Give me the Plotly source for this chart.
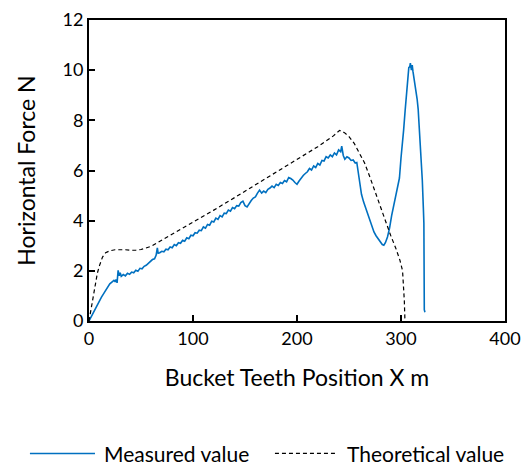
import plotly.graph_objects as go

mx = [0, 3, 6, 9, 12, 15, 18, 20, 22, 24, 25, 26, 27, 28, 29, 30, 31, 33, 35, 37, 39, 41, 43, 45, 47, 49, 51, 53, 55, 57, 59, 61, 63, 64.5, 65.7, 66.5, 68, 70, 72, 74, 76, 78, 80, 82, 84, 86, 88, 90, 92, 94, 96, 98, 100, 102, 104, 106, 108, 110, 112, 114, 116, 118, 120, 122, 124, 126, 128, 130, 132, 134, 136, 138, 140, 142, 144, 146, 148, 150, 152, 154, 156, 158, 160, 162, 164, 166, 168, 170, 172, 174, 176, 178, 180, 182, 184, 186, 188, 190, 192, 194, 196, 198, 200, 202, 204, 206, 208, 210, 212, 214, 216, 218, 220, 222, 224, 226, 228, 230, 232, 234, 236, 238, 240, 242, 243, 244.5, 246, 248, 250, 252, 254, 256, 257.5, 259, 260.5, 262, 264, 266, 268, 270, 272, 274, 276, 278, 280, 282, 283.5, 285, 287, 289, 291, 293, 295, 297, 298.5, 300, 301, 302.5, 304, 305.5, 306.5, 307.5, 308.5, 309, 310, 310.8, 311.5, 312.5, 313.5, 314.5, 315.5, 316.5, 317.5, 318.5, 319.5, 320.5, 321.5, 322, 322.4, 323]
my = [0, 0.25, 0.5, 0.72, 0.95, 1.15, 1.35, 1.48, 1.55, 1.62, 1.58, 1.65, 1.52, 2.02, 1.8, 1.92, 1.78, 1.85, 1.8, 1.9, 1.86, 1.95, 1.92, 2.02, 1.98, 2.1, 2.08, 2.18, 2.22, 2.3, 2.35, 2.45, 2.48, 2.62, 2.92, 2.7, 2.72, 2.78, 2.76, 2.86, 2.84, 2.95, 2.92, 3.05, 3.0, 3.12, 3.1, 3.22, 3.18, 3.32, 3.28, 3.42, 3.4, 3.52, 3.5, 3.62, 3.6, 3.75, 3.7, 3.85, 3.82, 3.98, 3.95, 4.1, 4.05, 4.2, 4.15, 4.3, 4.28, 4.42, 4.38, 4.52, 4.48, 4.6, 4.58, 4.72, 4.78, 4.6, 4.55, 4.7, 4.8, 4.9, 4.95, 5.1, 5.22, 5.1, 5.18, 5.12, 5.25, 5.3, 5.38, 5.32, 5.45, 5.4, 5.52, 5.48, 5.6, 5.55, 5.72, 5.68, 5.62, 5.52, 5.45, 5.58, 5.7, 5.8, 5.88, 5.95, 6.08, 6.02, 6.18, 6.12, 6.28, 6.22, 6.4, 6.38, 6.55, 6.5, 6.62, 6.55, 6.7, 6.62, 6.82, 6.75, 6.97, 6.6, 6.45, 6.55, 6.5, 6.4, 6.42, 6.3, 6.32, 5.9, 5.3, 5.05, 4.75, 4.5, 4.25, 4.0, 3.72, 3.55, 3.4, 3.28, 3.15, 3.05, 3.02, 3.12, 3.35, 3.7, 4.2, 4.6, 5.0, 5.45, 5.7, 6.5, 7.1, 7.6, 8.4, 9.2, 9.5, 10.1, 10.15, 10.28, 10.0, 10.2, 9.95, 9.7, 9.45, 9.1, 8.85, 8.45, 7.8, 7.0, 6.1, 5.6, 4.5, 3.9, 0.45, 0.35]

# Theoretical value
tx = [0, 2, 4, 6, 8, 10, 13, 16, 20, 25, 30, 35, 40, 45, 50, 55, 60, 65, 70, 80, 90, 100, 110, 120, 140, 160, 180, 200, 220, 235, 241, 246, 250, 255, 260, 265, 270, 275, 280, 285, 290, 295, 299, 301.5, 302.5, 303.2, 303.8]
ty = [0, 0.45, 1.05, 1.5, 1.9, 2.2, 2.55, 2.72, 2.8, 2.84, 2.85, 2.84, 2.82, 2.82, 2.85, 2.9, 2.98, 3.1, 3.22, 3.45, 3.68, 3.92, 4.17, 4.42, 4.92, 5.42, 5.92, 6.42, 6.95, 7.38, 7.6, 7.5, 7.35, 7.08, 6.7, 6.3, 5.75, 5.15, 4.55, 3.95, 3.42, 2.9, 2.42, 2.0, 1.5, 0.8, 0.0]

x_ticks = [0, 100, 200, 300, 400]
y_ticks = [0, 2, 4, 6, 8, 10, 12]
series_names = ["Measured value", "Theoretical value"]
colors = ["#0070C0", "black"]

font = "Lato, 'Open Sans', sans-serif"

fig = go.Figure()
fig.add_trace(go.Scatter(x=mx, y=my, mode="lines", name=series_names[0],
                         line=dict(color=colors[0], width=1.6), showlegend=False))
fig.add_trace(go.Scatter(x=tx, y=ty, mode="lines", name=series_names[1],
                         line=dict(color=colors[1], width=1.2, dash="4px,3px"), showlegend=False))

axis_common = dict(showline=True, linecolor="black", linewidth=2, mirror=True,
                   ticks="inside", ticklen=6, tickcolor="black", tickwidth=2,
                   showgrid=False, zeroline=False,
                   tickfont=dict(family=font, size=18, color="black"))

# manual legend (longer line samples like the original)
leg_y = -0.44
fig.add_shape(type="line", xref="paper", yref="paper", x0=-0.142, x1=0.0144, y0=leg_y, y1=leg_y,
              line=dict(color=colors[0], width=1.6))
fig.add_shape(type="line", xref="paper", yref="paper", x0=0.447, x1=0.594, y0=leg_y, y1=leg_y,
              line=dict(color=colors[1], width=1.2, dash="4px,3px"))
fig.add_annotation(xref="paper", yref="paper", x=0.031, y=leg_y, xanchor="left", yanchor="middle",
                   text=series_names[0], showarrow=False, font=dict(family=font, size=21, color="black"))
fig.add_annotation(xref="paper", yref="paper", x=0.615, y=leg_y, xanchor="left", yanchor="middle",
                   text=series_names[1], showarrow=False, font=dict(family=font, size=21, color="black"))

# page body has an 8px margin, so the figure is drawn 8px smaller and offset
fig.update_layout(
    width=522, height=458,
    margin=dict(l=81, r=25, t=12, b=145, autoexpand=False),
    paper_bgcolor="white", plot_bgcolor="white",
    font=dict(family=font, size=18, color="black"),
    xaxis=dict(range=[0, 400], tickvals=x_ticks,
               title=dict(text="Bucket Teeth Position X m", font=dict(family=font, size=23), standoff=22),
               **axis_common),
    yaxis=dict(range=[0, 12], tickvals=y_ticks,
               title=dict(text="Horizontal Force N", font=dict(family=font, size=23), standoff=20),
               **axis_common),
    showlegend=False,
)

fig.write_html("out.html", config={"displayModeBar": False})
